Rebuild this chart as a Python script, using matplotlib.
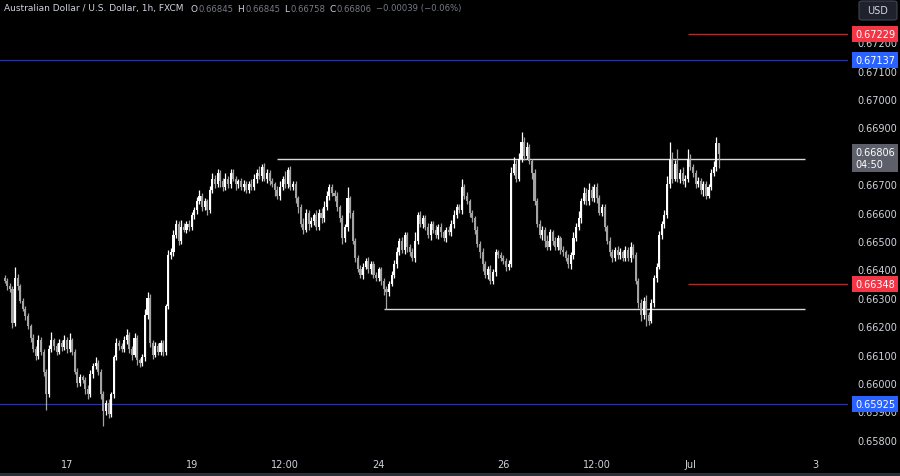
import matplotlib
matplotlib.use("Agg")
import matplotlib.pyplot as plt
import matplotlib.transforms as mtransforms
from matplotlib.patches import Rectangle, FancyBboxPatch
from matplotlib.ticker import MultipleLocator, FuncFormatter
import numpy as np
import pandas as pd

plt.rcParams['font.family'] = ['DejaVu Sans']

title = 'Australian Dollar / U.S. Dollar, 1h, FXCM'
head_ohlc = [('O', '0.66845'), ('H', '0.66845'), ('L', '0.66758'), ('C', '0.66806')]
head_change = '\u22120.00039 (\u22120.06%)'

# hourly AUDUSD closes in pipettes (0.66360 -> 66360), from Fri 14 Jun 00:00
first_open = 66370
closes = [
    66360, 66340, 66330, 66210, 66370, 66340, 66290, 66260, 66235, 66200, 66160, 66120,
    66095, 66150, 66110, 66040, 65960, 66120, 66150, 66130, 66110, 66140, 66125, 66150,
    66120, 66150, 66110, 66040, 66000, 66020, 66010, 65980, 65960, 66030, 66060, 66070,
    66040, 65960, 65900, 65930, 65890, 65960, 66090, 66140, 66130, 66120, 66150, 66170,
    66120, 66100, 66160, 66080, 66070, 66090, 66240, 66300, 66140, 66100, 66130, 66110,
    66140, 66110, 66270, 66450, 66460, 66520, 66560, 66500, 66550, 66540, 66560, 66550,
    66590, 66610, 66640, 66660, 66620, 66640, 66610, 66680, 66720, 66700, 66740, 66710,
    66690, 66720, 66700, 66740, 66720, 66700, 66710, 66690, 66700, 66680, 66700, 66690,
    66720, 66740, 66730, 66760, 66720, 66740, 66710, 66700, 66680, 66660, 66690, 66720,
    66700, 66750, 66690, 66700, 66650, 66620, 66560, 66540, 66600, 66560, 66570, 66590,
    66550, 66600, 66580, 66620, 66660, 66690, 66670, 66660, 66620, 66580, 66510, 66550,
    66650, 66600, 66500, 66440, 66400, 66380, 66410, 66430, 66400, 66420, 66380, 66370,
    66400, 66360, 66330, 66320, 66350, 66380, 66420, 66460, 66500, 66470, 66520, 66480,
    66460, 66440, 66500, 66590, 66560, 66580, 66550, 66520, 66560, 66540, 66520, 66550,
    66530, 66510, 66540, 66530, 66560, 66590, 66620, 66610, 66690, 66660, 66640, 66600,
    66580, 66540, 66490, 66460, 66420, 66380, 66400, 66360, 66390, 66460, 66450, 66440,
    66430, 66410, 66420, 66740, 66770, 66720, 66790, 66850, 66800, 66830, 66780, 66740,
    66640, 66560, 66520, 66540, 66500, 66480, 66530, 66500, 66480, 66510, 66470, 66460,
    66440, 66420, 66450, 66510, 66550, 66580, 66640, 66670, 66640, 66680, 66650, 66690,
    66650, 66600, 66620, 66550, 66500, 66460, 66440, 66470, 66450, 66460, 66440, 66470,
    66440, 66480, 66450, 66360, 66280, 66240, 66290, 66240, 66220, 66280, 66370, 66410,
    66520, 66560, 66590, 66700, 66790, 66720, 66770, 66720, 66740, 66710, 66720, 66790,
    66760, 66740, 66700, 66710, 66680, 66700, 66660, 66690, 66740, 66760, 66845, 66806,
]
# wick length above / below the body, pipettes
up_wick = [
    10, 8, 12, 10, 40, 15, 10, 8, 12, 10, 8, 14,
    10, 20, 12, 10, 8, 15, 30, 10, 12, 14, 10, 20,
    12, 25, 10, 8, 12, 10, 8, 10, 12, 15, 10, 20,
    10, 8, 12, 10, 15, 8, 10, 20, 12, 10, 15, 20,
    10, 12, 15, 10, 8, 12, 20, 20, 12, 10, 15, 10,
    12, 10, 8, 20, 15, 20, 15, 10, 25, 12, 10, 15,
    12, 10, 15, 20, 10, 12, 8, 15, 20, 12, 15, 10,
    12, 20, 10, 15, 12, 10, 8, 12, 15, 10, 12, 20,
    15, 12, 25, 10, 15, 12, 10, 12, 8, 15, 20, 10,
    25, 12, 15, 10, 12, 8, 10, 20, 12, 10, 15, 10,
    20, 12, 15, 20, 15, 10, 12, 10, 12, 8, 10, 10,
    40, 10, 8, 12, 10, 15, 12, 10, 12, 10, 8, 12,
    10, 8, 10, 12, 10, 15, 12, 20, 12, 15, 10, 12,
    10, 15, 30, 12, 15, 10, 12, 15, 10, 12, 15, 10,
    12, 10, 8, 12, 15, 20, 12, 12, 28, 10, 12, 8,
    10, 8, 12, 10, 15, 10, 12, 15, 10, 12, 8, 10,
    12, 10, 12, 20, 25, 15, 20, 34, 15, 20, 12, 10,
    12, 10, 15, 12, 10, 20, 12, 10, 15, 10, 8, 12,
    10, 15, 12, 20, 15, 25, 12, 20, 15, 25, 12, 10,
    15, 12, 10, 12, 8, 15, 12, 10, 12, 15, 10, 12,
    10, 15, 8, 12, 10, 15, 12, 20, 10, 15, 10, 12,
    15, 12, 20, 30, 59, 25, 15, 55, 15, 20, 12, 35,
    15, 12, 10, 15, 12, 10, 12, 10, 15, 20, 21, 0,
]
dn_wick = [
    8, 12, 10, 15, 10, 12, 10, 8, 12, 10, 15, 12,
    15, 10, 12, 15, 55, 10, 12, 15, 10, 8, 12, 10,
    15, 10, 12, 10, 15, 12, 10, 20, 15, 10, 12, 10,
    12, 15, 50, 12, 15, 10, 12, 10, 15, 12, 10, 12,
    15, 20, 10, 15, 12, 10, 12, 15, 12, 15, 10, 12,
    10, 15, 12, 10, 15, 12, 10, 15, 12, 10, 12, 15,
    10, 12, 15, 10, 15, 12, 20, 10, 12, 15, 10, 20,
    15, 10, 12, 15, 10, 20, 12, 10, 15, 12, 10, 12,
    10, 15, 12, 20, 10, 15, 12, 10, 20, 12, 15, 10,
    12, 15, 10, 12, 15, 20, 12, 15, 10, 20, 12, 15,
    12, 10, 15, 12, 10, 15, 12, 20, 15, 12, 20, 15,
    15, 20, 12, 15, 10, 12, 15, 10, 12, 15, 10, 12,
    12, 15, 20, 60, 12, 10, 12, 15, 10, 12, 15, 20,
    12, 10, 15, 12, 10, 15, 12, 10, 15, 12, 10, 12,
    15, 10, 12, 10, 12, 15, 10, 12, 15, 12, 10, 15,
    12, 15, 10, 20, 25, 12, 15, 10, 12, 15, 10, 12,
    10, 15, 12, 10, 8, 12, 10, 12, 15, 12, 10, 20,
    15, 12, 10, 15, 20, 12, 10, 15, 12, 10, 15, 12,
    10, 15, 20, 12, 10, 12, 15, 10, 12, 15, 10, 12,
    15, 10, 12, 15, 10, 12, 15, 10, 12, 15, 10, 12,
    12, 15, 10, 12, 15, 20, 15, 40, 15, 10, 12, 15,
    10, 12, 15, 10, 12, 15, 10, 12, 15, 10, 20, 12,
    10, 15, 12, 10, 15, 20, 12, 10, 12, 10, 12, 48,
]

tick_times = ['2024-06-17 00:00', '2024-06-19 00:00', '2024-06-20 12:00', '2024-06-24 00:00',
              '2024-06-26 00:00', '2024-06-27 12:00', '2024-07-01 00:00', '2024-07-03 00:00']
tick_labels = ['17', '19', '12:00', '24', '26', '12:00', 'Jul', '3']

blue_levels = [0.67137, 0.65925]
red_levels = [0.67229, 0.66348]
range_high = 0.66789
range_low = 0.66261
last_price = 0.66806
countdown = '04:50'

# trading hours (weekends skipped), extended a little into the future
hours = pd.date_range('2024-06-14 00:00', '2024-07-03 23:00', freq='h')
hours = hours[hours.dayofweek < 5]
def pos(t):
    return hours.get_loc(pd.Timestamp(t))

n = len(closes)
idx = np.arange(n)
c = np.array(closes) / 1e5
o = np.array([first_open] + closes[:-1]) / 1e5
hi = np.maximum(o, c) + np.array(up_wick) / 1e5
lo = np.minimum(o, c) - np.array(dn_wick) / 1e5
col = np.where(c >= o, '#ffffff', '#a3a3a3')

W, H = 900, 477
fig = plt.figure(figsize=(W / 100, H / 100), dpi=100, facecolor='black')
ax = fig.add_axes([0, 24 / H, 848 / W, 453 / H])
ax.set_facecolor('black')
for s in ax.spines.values():
    s.set_visible(False)

ax.set_xlim(-1.8, 324.7)
ax.set_ylim(0.65757, 0.673521)

# levels
for y in blue_levels:
    ax.axhline(y, color='#2b3595', linewidth=0.9, zorder=1)
for y in red_levels:
    ax.hlines(y, pos('2024-07-01 00:00') - 1, 330, color='#a62e2e', linewidth=1, zorder=1)
ax.hlines(range_high, pos('2024-06-20 09:00'), pos('2024-07-02 20:00'), color='#d9d9d9', linewidth=1, zorder=1)
ax.hlines(range_low, pos('2024-06-24 02:00'), pos('2024-07-02 20:00'), color='#d9d9d9', linewidth=1, zorder=1)

# candles
ax.vlines(idx, lo, hi, colors=col, linewidth=0.9, zorder=2)
ax.bar(idx, np.maximum(np.abs(c - o), 1.5e-5), bottom=np.minimum(o, c), width=0.8,
       color=col, linewidth=0, zorder=2)

# axes; labels hidden under the last price tag and the currency box are left blank
def price_fmt(v, p):
    if abs(v - 0.668) < 1e-7 or v > 0.6725:
        return ''
    return '%.5f' % v

ax.yaxis.tick_right()
ax.yaxis.set_major_locator(MultipleLocator(0.001))
ax.yaxis.set_major_formatter(FuncFormatter(price_fmt))
ax.tick_params(axis='y', length=0, pad=7, labelcolor='#d1d4dc', labelsize=7)
ax.set_xticks([pos(t) for t in tick_times], tick_labels)
ax.tick_params(axis='x', length=0, pad=5, labelcolor='#d1d4dc', labelsize=7)

# price tags on the scale
trans = mtransforms.blended_transform_factory(ax.transAxes, ax.transData)
def tag(y, text, fc):
    ax.text(1.0085, y, text, transform=trans, ha='left', va='center', color='white',
            fontsize=7, clip_on=False, zorder=5,
            bbox=dict(boxstyle='square,pad=0.3', fc=fc, ec='none'))

tag(red_levels[0], '%.5f' % red_levels[0], '#f23645')
tag(red_levels[1], '%.5f' % red_levels[1], '#f23645')
tag(blue_levels[0], '%.5f' % blue_levels[0], '#2962ff')
tag(blue_levels[1], '%.5f' % blue_levels[1], '#2962ff')
ax.text(1.0085, last_price, '%.5f\n%s' % (last_price, countdown),
        transform=mtransforms.offset_copy(trans, fig=fig, y=7, units='dots'),
        ha='left', va='top', color='white', fontsize=7, linespacing=1.3,
        clip_on=False, zorder=5, bbox=dict(boxstyle='square,pad=0.3', fc='#5d606b', ec='none'))

# currency box
fig.patches.append(FancyBboxPatch((859 / W, 1 - 21 / H), 38 / W, 19 / H,
                                  boxstyle='round,pad=0,rounding_size=0.004',
                                  transform=fig.transFigure, fc='#1e222d', ec='#434651', lw=0.8))
fig.text(878 / W, 1 - 11 / H, 'USD', ha='center', va='center', color='#d1d4dc', fontsize=7)

# header line, laid out piece by piece
renderer = fig.canvas.get_renderer()
hy = 1 - 9 / H
def put(x, s, color, size=6.5):
    t = fig.text(x / W, hy, s, ha='left', va='center', color=color, fontsize=size)
    return x + t.get_window_extent(renderer).width

hx = put(4, title, '#d1d4dc') + 7
for k, v in head_ohlc:
    hx = put(hx, k, '#d1d4dc') + 1
    hx = put(hx, v, '#787b86', 6.1) + 4
put(hx + 1, head_change, '#787b86', 6.1)

fig.patches.append(Rectangle((0, 0), 1, 3 / H, transform=fig.transFigure, fc='#2a2e39', ec='none'))

fig.savefig('out.png', dpi=100, facecolor='black')
